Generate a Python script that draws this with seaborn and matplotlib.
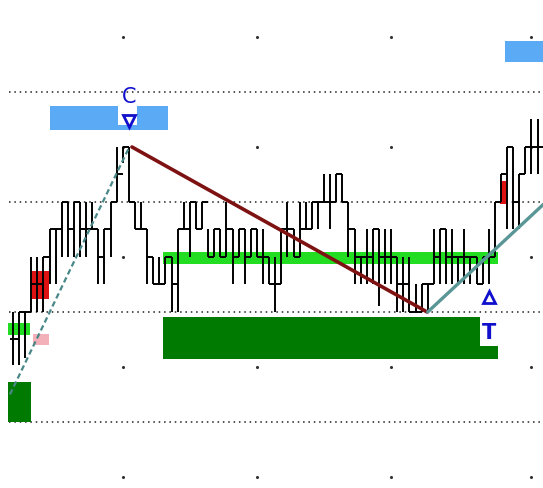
import matplotlib
matplotlib.use("Agg")
import matplotlib.pyplot as plt
import matplotlib.patches as mpatches
import numpy as np
import pandas as pd
import seaborn as sns

# --- barras de precio (mínimo, máximo, cierre) ---
lows = [105.2, 105.2, 105.8, 110, 110, 110, 112.5, 112.5, 115, 115,
        115, 115, 115, 117.5, 112.5, 112.5, 115, 120, 123.5, 120,
        117.5, 117.5, 112.5, 112.5, 112.5, 112.5, 110, 110, 117.5, 115,
        117.5, 117.5, 115, 115, 115, 115, 112.5, 115, 112.5, 115,
        115, 112.5, 112.5, 110, 112.5, 115, 115, 115, 117.5, 117.5,
        117.5, 120, 117.5, 120, 120, 115, 112.5, 112.5, 112.5, 112.5,
        110.5, 112.5, 112.5, 110, 110, 110, 110, 110, 110, 112.5,
        112.5, 112.5, 112.5, 112.5, 112.5, 112.5, 112.5, 112.5, 112.5, 115,
        120, 117.5, 117.5, 117.5, 122.5, 122.5, 122.5, 125]
highs = [110, 110, 110, 115, 115, 115, 117.5, 117.5, 120, 120,
         120, 120, 120, 120, 117.5, 117.5, 120, 125, 125, 125,
         120, 120, 117.5, 115, 115, 115, 115, 117.5, 120, 120,
         120, 120, 117.5, 117.5, 117.5, 120, 117.5, 117.5, 117.5, 117.5,
         117.5, 117.5, 115, 115, 117.5, 120, 117.5, 120, 120, 120,
         120, 122.5, 122.5, 122.5, 122.5, 120, 117.5, 115, 117.5, 117.5,
         117.5, 117.5, 117.5, 115, 115, 115, 112.5, 112.5, 112.5, 117.5,
         117.5, 117.5, 117.5, 115, 117.5, 115, 115, 115, 117.5, 120,
         122.5, 125, 125, 122.5, 125, 127.5, 127.5, 130]
closes = [107.5, 110, 110, 112.5, 112.5, 115, 117.5, 117.5, 120, 117.5,
          120, 117.5, 117.5, 117.5, 115, 117.5, 120, 122.5, 125, 120,
          117.5, 117.5, 115, 112.5, 112.5, 115, 112.5, 117.5, 117.5, 120,
          117.5, 120, 115, 117.5, 115, 117.5, 115, 117.5, 115, 117.5,
          115, 115, 112.5, 112.5, 117.5, 117.5, 115, 117.5, 117.5, 120,
          120, 120, 120, 122.5, 120, 117.5, 115, 115, 115, 117.5,
          115, 115, 115, 112.5, 112.5, 110, 110, 112.5, 112.5, 115,
          117.5, 115, 115, 115, 115, 115, 112.5, 115, 115, 120,
          122.5, 125, 120, 122.5, 125, 125, 125, 130]

# --- niveles y objetos dibujados ---
grid_levels = [100, 110, 120, 130]
dot_levels = [95, 105, 115, 125, 135]
dot_columns = [18, 40, 62, 85]

trend_down = {"x": [19.5, 67.9], "y": [125, 110]}
trend_up_left = {"x": [-0.5, 18.9], "y": [102.5, 124.8]}
trend_up_right = {"x": [68, 87], "y": [110, 119.8]}

# (x0, x1, y0, y1, color)
zones = [
    (6.1, 25.4, 126.5, 128.7, "#5aaaf5"),
    (80.7, 88.0, 132.7, 134.6, "#5aaaf5"),
    (24.6, 79.5, 114.4, 115.45, "#22dd22"),
    (-0.8, 2.8, 107.9, 109.0, "#22dd22"),
    (24.6, 79.5, 105.7, 109.5, "#007a00"),
    (-0.8, 2.95, 100.0, 103.6, "#007a00"),
    (3.1, 5.9, 111.2, 113.7, "#dd1111"),
    (3.3, 5.9, 107.0, 108.0, "#f4b0b8"),
    (79.8, 81.0, 119.8, 121.9, "#dd1111"),
]

sns.set_style("white")
fig = plt.figure(figsize=(5.43, 4.89), dpi=100)
ax = fig.add_axes([0, 0, 1, 1])
ax.set_xlim(-2.13, 86.9)
ax.set_ylim(94.0, 138.45)
ax.axis("off")

ax.hlines(grid_levels, -0.6, 87, color="#222222", lw=1.1, ls=(0, (1, 2.5)), zorder=1)

dots = pd.DataFrame([(c, l) for c in dot_columns for l in dot_levels], columns=["x", "y"])
sns.scatterplot(data=dots, x="x", y="y", s=5, color="#333333", linewidth=0, ax=ax, zorder=1)

for x0, x1, y0, y1, col in zones:
    ax.add_patch(mpatches.Rectangle((x0, y0), x1 - x0, y1 - y0, color=col, lw=0, zorder=2))

# huecos blancos de las etiquetas
ax.add_patch(mpatches.Rectangle((17.2, 127.0), 3.2, 1.8, color="white", lw=0, zorder=3))
ax.add_patch(mpatches.Rectangle((76.6, 106.9), 3.0, 2.7, color="white", lw=0, zorder=3))

idx = np.arange(len(closes))
opens = [closes[0]] + closes[:-1]
ax.vlines(idx, lows, highs, color="black", lw=1.4, zorder=4)
ax.hlines(opens, idx - 0.5, idx, color="black", lw=1.4, zorder=4)
ax.hlines(closes, idx, idx + 0.5, color="black", lw=1.4, zorder=4)

sns.lineplot(x=trend_down["x"], y=trend_down["y"], color="#7e1212", lw=2.6, ax=ax, zorder=5)
sns.lineplot(x=trend_up_left["x"], y=trend_up_left["y"], color="#4a8888", lw=1.6,
             ls=(0, (2.5, 1.5)), ax=ax, zorder=5)
sns.lineplot(x=trend_up_right["x"], y=trend_up_right["y"], color="#5a9696", lw=2.4, ax=ax, zorder=5)

ax.plot(19.0, 127.4, marker="v", ms=9, mfc="white", mec="#1010cc", mew=2, zorder=6)
ax.text(19.0, 129.6, "C", color="#1010cc", fontsize=15, ha="center", va="center", zorder=6)
ax.plot(78.0, 111.4, marker="^", ms=9, mfc="white", mec="#1010cc", mew=2, zorder=6)
ax.text(78.0, 108.2, "T", color="#1010cc", fontsize=15, fontweight="bold",
        ha="center", va="center", zorder=6)

fig.savefig("out.png", dpi=100)
